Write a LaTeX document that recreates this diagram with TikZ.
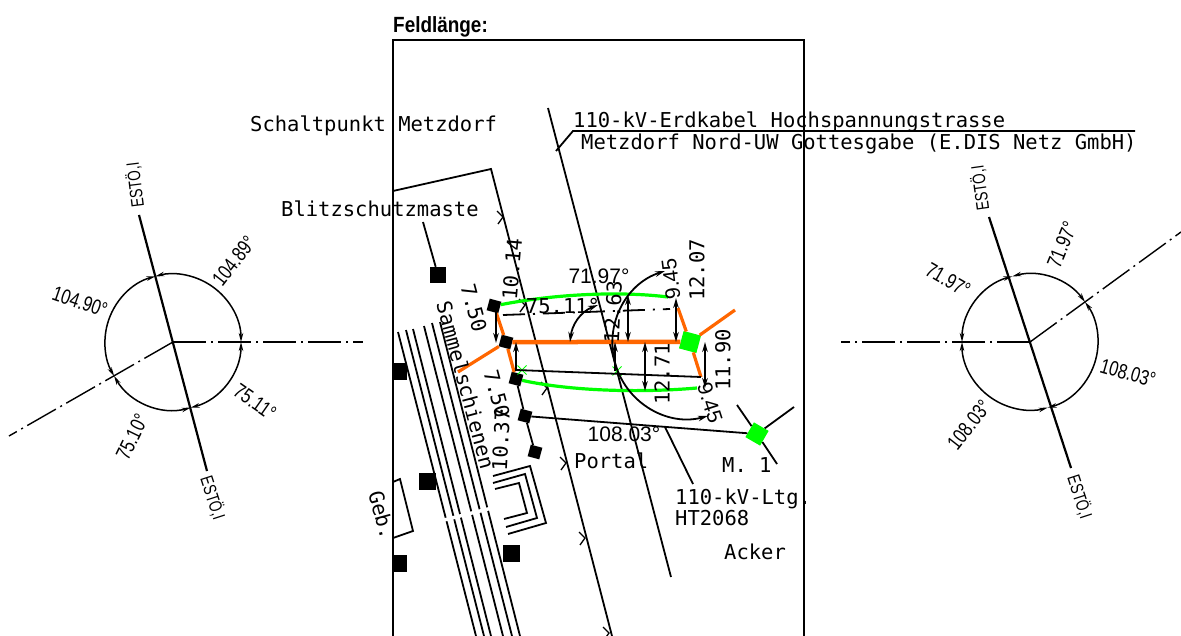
\documentclass[tikz,border=0pt]{standalone}
\usepackage{fontspec}
\usepackage{xcolor}
\setmainfont{Liberation Sans}
\newfontfamily\planfont{DejaVu Sans Mono}
\usetikzlibrary{shapes.misc, arrows.meta, positioning, calc}
\definecolor{cableorange}{HTML}{FF6600}
\definecolor{cablegreen}{HTML}{00FF00}

\begin{document}
\begin{tikzpicture}[
  x=1pt, y=-1pt,
  plan/.style={line width=1.8pt, draw=black},
  axis/.style={line width=2.2pt, draw=black},
  centerline/.style={line width=1.4pt, draw=black, dash pattern=on 33pt off 5pt on 2pt off 5pt},
  planlabel/.style={font=\fontsize{20.5}{22}\planfont, inner sep=0pt, anchor=west},
  dimlabel/.style={font=\fontsize{20.5}{22}\planfont, inner sep=0pt},
  anglelabel/.style={font=\fontsize{21}{24}\selectfont, inner sep=0pt},
  diallabel/.style={font=\fontsize{21}{24}\selectfont, inner sep=0pt, xscale=.78},
  dirlabel/.style={font=\fontsize{18}{20}\selectfont, inner sep=0pt, xscale=.75},
  mast/.style={rectangle, fill=black, inner sep=0pt, minimum size=#1},
  bolt/.style={rectangle, fill=black, inner sep=0pt, minimum size=12pt, rotate=-15},
  tower/.style={rectangle, fill=cablegreen, inner sep=0pt, minimum size=#1},
  crossmark/.style={cross out, draw=cablegreen, line width=1pt, inner sep=0pt, minimum size=8pt},
  cable/.style={line width=4.5pt, draw=cableorange},
  feeder/.style={line width=3.2pt, draw=cableorange},
  sag/.style={line width=3.2pt, draw=cablegreen},
  dimarrow/.style={line width=1.8pt, {Stealth[length=10pt,width=5.5pt]}-{Stealth[length=10pt,width=5.5pt]}},
  uparrow/.style={line width=1.8pt, {Stealth[length=10pt,width=5.5pt]}-},
  dial/.style={line width=1.5pt, {Stealth[length=9pt,width=4.5pt]}-{Stealth[length=9pt,width=4.5pt]}}
]
  \useasboundingbox (0,0) rectangle (1181,636);

  % Left dial
  \coordinate (lc) at (173,342);
  \draw[dial] ([shift={(0:68pt)}]lc) arc[start angle=0, end angle=105, radius=68pt];
  \draw[dial] ([shift={(105:68pt)}]lc) arc[start angle=105, end angle=210, radius=68pt];
  \draw[dial] ([shift={(210:68pt)}]lc) arc[start angle=210, end angle=285, radius=68pt];
  \draw[dial] ([shift={(285:68pt)}]lc) arc[start angle=285, end angle=360, radius=68pt];
  \coordinate (ltop) at (139,215);
  \coordinate (lbot) at (207,471);
  \coordinate (lright) at (363,342);
  \coordinate (lleft) at (9,436);
  \draw[axis] (ltop) -- (lbot);
  \draw[centerline] (lc) -- (lright);
  \draw[centerline] (lc) -- (lleft);
  \node[rotate=52, diallabel] (la1) at (234,261) {104.89°};
  \node[rotate=-19, diallabel] (la2) at (80,302) {104.90°};
  \node[rotate=-35, diallabel] (la3) at (255,402) {75.11°};
  \node[rotate=64, diallabel] (la4) at (132,437) {75.10°};
  \node[rotate=97, dirlabel] (ld1) at (135,185) {ESTÖ,I};
  \node[rotate=-72, dirlabel] (ld2) at (213,498) {ESTÖ,I};

  % Right dial
  \coordinate (rc) at (1030,342);
  \draw[dial] ([shift={(36:68pt)}]rc) arc[start angle=36, end angle=105, radius=68pt];
  \draw[dial] ([shift={(105:68pt)}]rc) arc[start angle=105, end angle=180, radius=68pt];
  \draw[dial] ([shift={(180:68pt)}]rc) arc[start angle=180, end angle=285, radius=68pt];
  \draw[dial] ([shift={(285:68pt)}]rc) arc[start angle=285, end angle=396, radius=68pt];
  \coordinate (rtop) at (989,217);
  \coordinate (rbot) at (1071,468);
  \coordinate (rleft) at (841,342);
  \coordinate (rright) at (1181,232);
  \draw[axis] (rtop) -- (rbot);
  \draw[centerline] (rc) -- (rleft);
  \draw[centerline] (rc) -- (rright);
  \node[rotate=68, diallabel] (ra1) at (1062,245) {71.97°};
  \node[rotate=-30, diallabel] (ra2) at (948,280) {71.97°};
  \node[rotate=-16, diallabel] (ra3) at (1128,373) {108.03°};
  \node[rotate=52, diallabel] (ra4) at (969,425) {108.03°};
  \node[rotate=98, dirlabel] (rd1) at (980,188) {ESTÖ,I};
  \node[rotate=-72, dirlabel] (rd2) at (1080,497) {ESTÖ,I};

  % Sheet frame
  \draw[plan] (393,636) -- (393,40) -- (804,40) -- (804,636);
  \node[font=\fontsize{22}{24}\bfseries, inner sep=0pt, xscale=.86] (title) at (440.5,27) {Feldlänge:};

  % Site outline and road
  \draw[plan] (393,191) -- (491,169) -- (612,636);
  \draw[plan] (548,108) -- (671,577);
  \foreach \tx/\ty in {503/217, 525/305, 547/388, 566/463, 585/538, 609/633} {
    \draw[line width=1.3pt] (\tx-6,\ty-6) -- (\tx,\ty) -- (\tx-5,\ty+7);
  }

  % Busbars
  \draw[plan] (398,332) -- (476,636);
  \draw[plan] (406,330) -- (484,636);
  \draw[plan] (413,329) -- (491,636);
  \draw[plan] (424,326) -- (503,636);
  \draw[plan] (432,323) -- (512,636);
  \draw[plan] (440,322) -- (520,636);
  \draw[draw=white, line width=3.5pt] (444,520) -- (492,508);

  % Portal outline
  \draw[plan] (493,476) -- (530,466) -- (546,523) -- (508,534);
  \draw[plan] (493,483) -- (525,474) -- (537,518) -- (506,527);
  \draw[plan] (495,489) -- (519,483) -- (527,513) -- (504,519);

  % Building
  \draw[plan] (393,482) -- (400,479) -- (413,531) -- (393,538);

  % Masts
  \node[mast=16pt] (m1) at (438,275) {};
  \node[mast=14pt, minimum height=17pt] (m2) at (400,371.5) {};
  \node[mast=17pt] (m3) at (427,481) {};
  \node[mast=14pt, minimum height=17pt] (m4) at (400,563) {};
  \node[mast=17pt] (m5) at (511,553) {};

  % Bolts and towers
  \node[bolt] (b1) at (494,306) {};
  \node[bolt] (b2) at (506,342) {};
  \node[bolt] (b3) at (516,379) {};
  \node[bolt] (b4) at (525,416) {};
  \node[bolt] (b5) at (535,452) {};
  \node[tower=18pt, rotate=-15] (t1) at (690,342) {};
  \node[tower=17pt, rotate=-30] (t2) at (757,434) {};
  \node[crossmark] (x1) at (522,370) {};
  \node[crossmark] (x2) at (617,371) {};

  % Orange cables
  \coordinate (cin) at (458,372);
  \coordinate (cout) at (735,310);
  \coordinate (rup) at (678,308);
  \coordinate (rdn) at (701,377);
  \draw[cable] (b2) -- (t1);
  \draw[feeder] (cin) -- (b2);
  \draw[feeder] (t1) -- (cout);
  \draw[feeder] (b1) -- (b2);
  \draw[feeder] (b2) -- (b3);
  \draw[feeder] (rup) -- (t1);
  \draw[feeder] (t1) -- (rdn);

  % Sag curves
  \coordinate (stop) at (668,297);
  \coordinate (sbot) at (697,388);
  \draw[sag] (b1) .. controls (555,294) and (620,291) .. (stop);
  \draw[sag] (b3) .. controls (570,391) and (640,393) .. (sbot);

  % Thin black lines
  \coordinate (m1lead) at (423,222);
  \coordinate (t2a) at (737,405);
  \coordinate (t2b) at (777,464);
  \coordinate (t2c) at (794,407);
  \coordinate (ltgend) at (693,484);
  \coordinate (ltgstart) at (665,427);
  \coordinate (kink) at (573,131);
  \coordinate (kinka) at (556,151);
  \coordinate (kinkb) at (1135,131);
  \coordinate (chordl) at (516,370);
  \draw[plan] (m1lead) -- (m1);
  \draw[plan] (b3) -- (b4);
  \draw[plan] (b4) -- (b5);
  \draw[plan] (b4) -- (t2);
  \draw[plan] (t2a) -- (t2);
  \draw[plan] (t2) -- (t2b);
  \draw[plan] (t2) -- (t2c);
  \draw[plan] (chordl) -- (rdn);
  \draw[plan] (ltgstart) -- (ltgend);
  \draw[plan] (kinka) -- (kink) -- (kinkb);
  \draw[line width=1.8pt, dash pattern=on 22pt off 8pt on 2pt off 8pt] (503,315) -- (670,309);

  % Dimension arrows
  \coordinate (d1a) at (496,305);
  \coordinate (d1b) at (496,343);
  \coordinate (d2a) at (516,342);
  \coordinate (d2b) at (516,371);
  \coordinate (d3a) at (615,342);
  \coordinate (d3b) at (615,371);
  \coordinate (d4a) at (628,295);
  \coordinate (d4b) at (628,342);
  \coordinate (d5a) at (676,298);
  \coordinate (d5b) at (676,342);
  \coordinate (d6a) at (645,342);
  \coordinate (d6b) at (645,391);
  \coordinate (d7a) at (705,342);
  \coordinate (d7b) at (705,388);
  \draw[uparrow] (d1b) -- (d1a);
  \draw[uparrow] (d2a) -- (d2b);
  \draw[uparrow] (d3a) -- (d3b);
  \draw[dimarrow] (d4a) -- (d4b);
  \draw[dimarrow] (d5a) -- (d5b);
  \draw[dimarrow] (d6a) -- (d6b);
  \draw[dimarrow] (d7a) -- (d7b);

  % Angle arcs
  \coordinate (a1a) at (598,305);
  \coordinate (a1b) at (570,342);
  \draw[dimarrow] (a1a) .. controls (580,312) and (572,325) .. (a1b);
  \coordinate (a2a) at (665,271);
  \draw[dimarrow] (a2a) arc[start angle=107.7, end angle=285.3, radius=75.6pt];

  % Dimension labels
  \node[dimlabel, rotate=-75] (l750a) at (474,308) {7.50};
  \node[dimlabel, rotate=-75] (l750b) at (497,394) {7.50};
  \node[dimlabel, rotate=87] (l1037) at (501,440) {10.37};
  \node[dimlabel, rotate=85] (l1014) at (512,269) {10.14};
  \node[dimlabel] (l7511) at (563,306) {75.11°};
  \node[anglelabel] (l7197) at (599,276) {71.97°};
  \node[anglelabel] (l10803) at (624,434) {108.03°};
  \node[dimlabel, rotate=87] (l1263) at (613,312) {12.63};
  \node[dimlabel, rotate=90] (l1207) at (697,270) {12.07};
  \node[dimlabel, rotate=90] (l1271) at (662,374) {12.71};
  \node[dimlabel, rotate=90] (l1190) at (723,360) {11.90};
  \node[anglelabel, rotate=97] (l945a) at (671,279) {9.45};
  \node[anglelabel, rotate=-72] (l945b) at (710,403) {9.45};

  % Plan labels
  \node[planlabel] (sp) at (250,126) {Schaltpunkt Metzdorf};
  \node[planlabel] (ek1) at (573,122) {110-kV-Erdkabel Hochspannungstrasse};
  \node[planlabel] (ek2) at (581,144) {Metzdorf Nord-UW Gottesgabe (E.DIS Netz GmbH)};
  \node[planlabel] (bm) at (281,209) {Blitzschutzmaste};
  \node[dimlabel, rotate=-75] (ss) at (466,385) {Sammelschienen};
  \node[dimlabel, rotate=-75] (geb) at (382,515) {Geb.};
  \node[planlabel] (po) at (574,461) {Portal};
  \node[planlabel] (m) at (722,465) {M. 1};
  \node[planlabel] (lt1) at (675,499) {110-kV-Ltg.};
  \node[planlabel] (lt2) at (675,518) {HT2068};
  \node[planlabel] (ak) at (724,552) {Acker};
\end{tikzpicture}
\end{document}
